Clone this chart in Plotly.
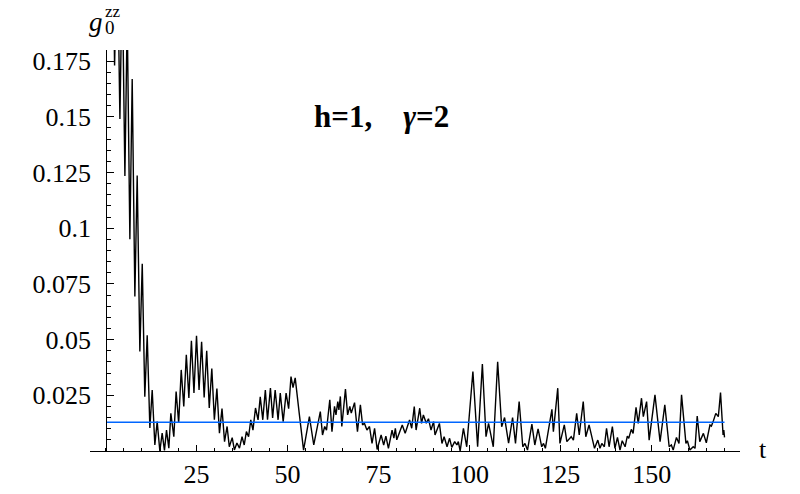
import plotly.graph_objects as go

# ---- data (time t, correlation g0^zz) ----
t = [0.0, 0.49, 1.22, 1.86, 2.5, 3.23, 3.96, 4.6, 5.33, 5.97, 6.7, 7.34, 8.07, 8.71, 9.44, 10.1,
     10.8, 11.46, 12.19, 12.83, 13.56, 14.2, 14.93, 15.57, 16.2, 16.76, 17.4, 17.95, 18.77, 19.4,
     20.1, 20.8, 21.5, 22.2, 22.9, 23.6, 24.3, 25.0, 25.7, 26.4, 27.1, 27.8, 28.5, 29.2, 29.9,
     30.6, 31.3, 32.0, 32.7, 33.4, 34.0, 34.8, 35.4, 36.1, 36.8, 37.5, 38.1, 38.7, 39.3, 39.9,
     40.5, 41.2, 41.9, 42.5, 43.2, 43.9, 44.5, 45.3, 45.9, 46.6, 47.4, 48.0, 48.8, 49.6, 50.3,
     50.95, 51.5, 52.1, 53.2, 54.4, 56.0, 57.2, 59.0, 59.6, 60.2, 60.7, 61.6, 62.2, 62.9, 63.3,
     63.8, 64.1, 64.5, 64.9, 65.9, 66.5, 67.1, 67.5, 68.4, 69.2, 70.0, 70.6, 71.1, 71.8, 72.5,
     73.2, 73.9, 74.6, 75.7, 76.4, 77.0, 77.7, 78.7, 79.2, 79.6, 80.0, 81.5, 82.3, 83.5, 84.1,
     84.8, 85.3, 86.3, 86.8, 87.3, 88.1, 88.7, 89.4, 90.1, 90.5, 91.7, 92.4, 93.0, 93.8, 94.5,
     95.1, 95.9, 96.5, 96.9, 97.4, 98.3, 99.2, 100.9, 102.2, 103.5, 104.5, 105.2, 106.5, 107.7,
     108.8, 109.6, 110.7, 111.8, 112.6, 113.6, 114.6, 115.2, 115.9, 117.1, 117.9, 118.8, 119.8,
     120.3, 120.8, 122.6, 123.0, 124.2, 124.8, 126.0, 126.7, 127.9, 128.5, 129.4, 130.1, 131.2,
     131.9, 132.8, 134.3, 135.2, 135.8, 136.3, 137.0, 137.6, 138.3, 139.2, 139.9, 140.6, 141.3,
     141.9, 142.7, 143.3, 143.7, 144.4, 144.9, 145.7, 146.3, 147.2, 147.7, 148.6, 149.3, 150.9,
     152.3, 153.6, 154.8, 155.4, 155.9, 156.8, 157.5, 158.2, 159.4, 159.8, 160.5, 161.4, 161.9,
     162.5, 163.2, 164.2, 165.0, 166.0, 166.4, 166.9, 167.6, 168.3, 168.9, 169.6, 169.8, 170.0]

g = [0.23, 0.26, 0.195, 0.25, 0.173, 0.23, 0.149, 0.215, 0.1234, 0.195, 0.095, 0.167, 0.0694,
     0.1237, 0.0447, 0.084, 0.0244, 0.052, 0.0103, 0.0274, 0.0027, 0.0132, 0.0, 0.008, 0.0003,
     0.0094, 0.0013, 0.0169, 0.0064, 0.0267, 0.0126, 0.0364, 0.020, 0.0432, 0.0238, 0.0495,
     0.026, 0.0517, 0.0274, 0.049, 0.024, 0.045, 0.0193, 0.037, 0.014, 0.028, 0.008, 0.019,
     0.0042, 0.011, 0.0019, 0.006, 0.0005, 0.0036, 0.0013, 0.0064, 0.0027, 0.0087, 0.0064,
     0.014, 0.0094, 0.0193, 0.014, 0.0243, 0.014, 0.0274, 0.014, 0.0283, 0.0148, 0.0274, 0.014,
     0.026, 0.0132, 0.026, 0.019, 0.0334, 0.0285, 0.0328, 0.017, 0.0004, 0.0154, 0.0027, 0.0177,
     0.0072, 0.011, 0.0094, 0.023, 0.0087, 0.020, 0.0162, 0.0222, 0.0184, 0.0245, 0.011, 0.0278,
     0.0162, 0.020, 0.017, 0.0217, 0.0087, 0.0207, 0.0117, 0.0125, 0.0094, 0.011, 0.0034, 0.0102,
     0.0007, 0.0072, 0.0027, 0.0067, 0.0012, 0.0094, 0.0058, 0.0102, 0.005, 0.0117, 0.008,
     0.0139, 0.0102, 0.0199, 0.0094, 0.0192, 0.0124, 0.0162, 0.0125, 0.0145, 0.0094, 0.0132,
     0.0072, 0.0124, 0.0034, 0.0064, 0.0019, 0.0057, 0.0016, 0.0042, 0.0027, 0.0042, 0.0,
     0.0102, 0.0019, 0.0357, 0.0019, 0.039, 0.0064, 0.0124, 0.0019, 0.040, 0.0109, 0.015,
     0.0035, 0.015, 0.0034, 0.0222, 0.0019, 0.0034, 0.0004, 0.0121, 0.0027, 0.0099, 0.0019,
     0.0034, 0.0012, 0.0187, 0.0087, 0.0282, 0.0034, 0.0117, 0.0042, 0.0064, 0.0049, 0.0169,
     0.0072, 0.0222, 0.0064, 0.0117, 0.0012, 0.0049, 0.0012, 0.0034, 0.0019, 0.0102, 0.0019,
     0.011, 0.0012, 0.0061, 0.0004, 0.0046, 0.0019, 0.0067, 0.0057, 0.0097, 0.0079, 0.0196,
     0.0124, 0.0237, 0.0154, 0.0222, 0.0049, 0.0252, 0.0042, 0.0207, 0.0019, 0.0027, 0.0004,
     0.0061, 0.0034, 0.0252, 0.0034, 0.0046, 0.0004, 0.0019, 0.0012, 0.0157, 0.0042, 0.0079,
     0.0037, 0.0117, 0.0112, 0.0133, 0.0169, 0.0154, 0.0262, 0.0072, 0.0094, 0.0061]

# time-averaged value (blue line)
t_mean = [0.4, 170.0]
g_mean = [0.0129, 0.0129]

x_tick_vals = [25, 50, 75, 100, 125, 150]
y_tick_vals = [0.025, 0.05, 0.075, 0.1, 0.125, 0.15, 0.175]
y_tick_text = ["0.025", "0.05", "0.075", "0.1", "0.125", "0.15", "0.175"]

SERIF = "Liberation Serif"

fig = go.Figure()
fig.add_trace(go.Scatter(x=t, y=g, mode="lines",
                         line=dict(color="black", width=1.4), hoverinfo="skip"))
fig.add_trace(go.Scatter(x=t_mean, y=g_mean, mode="lines",
                         line=dict(color="#0066ff", width=1.4), hoverinfo="skip"))

tickfont = dict(family=SERIF, size=26, color="black")

# the page body adds an 8 px offset, so the figure is 8 px smaller and margins shifted
fig.update_layout(
    template="none",
    width=792, height=486,
    margin=dict(l=82, r=60, t=42, b=43, autoexpand=False),
    paper_bgcolor="white", plot_bgcolor="white",
    showlegend=False,
    xaxis=dict(range=[-4.25, 174.25], automargin=False, showline=True, linecolor="black",
               linewidth=1, showgrid=False, zeroline=False, tickmode="array",
               tickvals=x_tick_vals, ticks="inside", ticklen=6, tickwidth=1, tickcolor="black",
               tickfont=tickfont, ticklabelstandoff=0,
               minor=dict(tickmode="linear", tick0=0, dtick=5, ticks="inside",
                          ticklen=3.5, tickwidth=1, tickcolor="black", showgrid=False)),
    yaxis=dict(range=[0, 0.18], automargin=False, anchor="free", position=0.025,
               showline=True, linecolor="black", linewidth=1, showgrid=False, zeroline=False,
               tickmode="array", tickvals=y_tick_vals, ticktext=y_tick_text,
               ticks="inside", ticklen=7, tickwidth=1, tickcolor="black",
               tickfont=tickfont, ticklabelstandoff=10,
               minor=dict(tickmode="linear", tick0=0, dtick=0.005, ticks="inside",
                          ticklen=4, tickwidth=1, tickcolor="black", showgrid=False)),
    annotations=[
        dict(text="<b>h=1,\u00a0\u00a0\u00a0\u00a0<i>γ</i>=2</b>", x=0.449, y=0.835,
             xref="paper", yref="paper", xanchor="center", yanchor="middle",
             showarrow=False, font=dict(family=SERIF, size=31, color="black")),
        dict(text="t", x=1.026, y=0.0025, xref="paper", yref="paper",
             xanchor="left", yanchor="middle", showarrow=False,
             font=dict(family=SERIF, size=26, color="black")),
        dict(text="<i>g</i>", x=0.0085, y=1.0698, xref="paper", yref="paper",
             xanchor="center", yanchor="middle", showarrow=False, borderpad=0,
             font=dict(family=SERIF, size=27, color="black")),
        dict(text="<span style='font-size:17px'>zz</span><br><span style='font-size:19px'>0</span>",
             x=0.0215, y=1.076, xref="paper", yref="paper", align="left",
             xanchor="left", yanchor="middle", showarrow=False, borderpad=0,
             font=dict(family=SERIF, size=13, color="black")),
    ],
)

fig.write_html("out.html")
